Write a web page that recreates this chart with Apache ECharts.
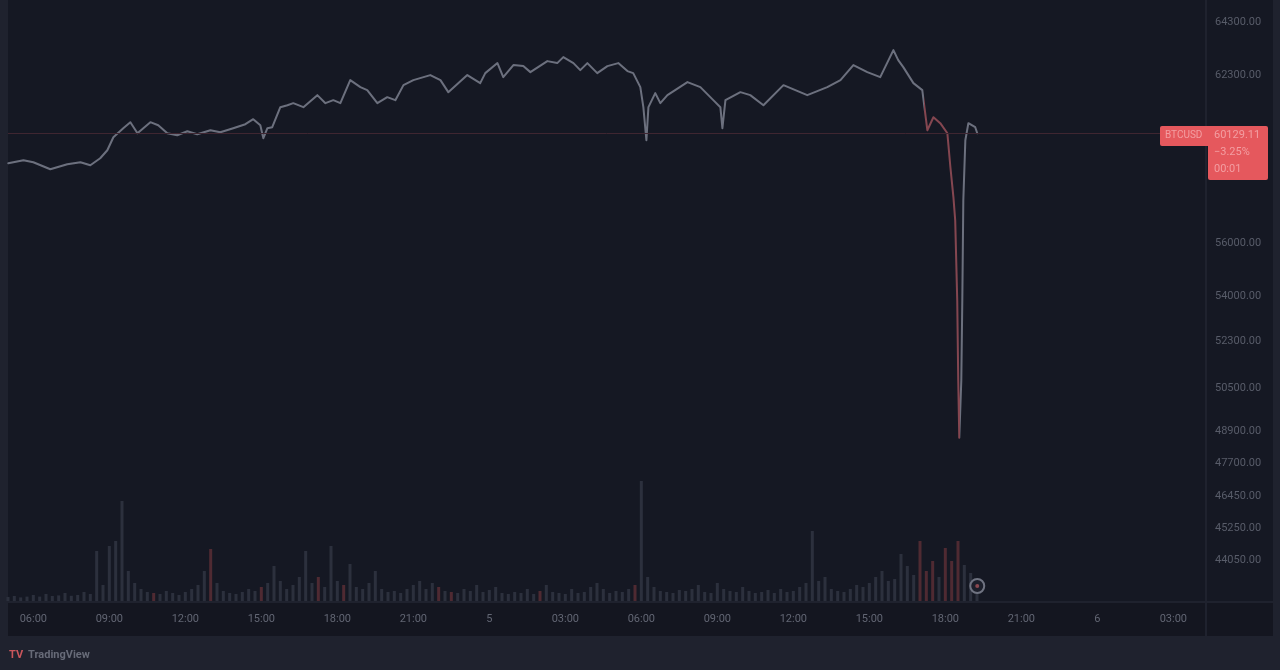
<!DOCTYPE html>
<html>
<head>
<meta charset="utf-8">
<script src="https://cdn.jsdelivr.net/npm/echarts@6/dist/echarts.min.js"></script>
<style>
html,body{margin:0;padding:0;background:#1f222e;}
#c{width:1280px;height:670px;}
</style>
</head>
<body>
<div id="c"></div>
<script>
// ---- data (hours since day-4 00:00, price in USD) ----
const times = [5.01,5.61,6.00,6.67,7.34,7.86,8.25,8.64,8.92,9.16,9.55,9.83,10.11,10.62,10.93,11.29,11.68,12.08,12.47,12.99,13.38,13.89,14.37,14.68,14.96,15.08,15.24,15.43,15.75,16.03,16.26,16.66,17.21,17.53,17.84,18.12,18.51,18.91,19.18,19.58,19.97,20.29,20.61,21.00,21.67,22.07,22.38,23.13,23.64,23.84,24.32,24.55,24.95,25.34,25.62,26.29,26.68,26.92,27.32,27.59,27.87,28.26,28.66,29.09,29.45,29.68,29.96,30.08,30.20,30.28,30.55,30.75,31.03,31.82,32.33,32.84,33.12,33.20,33.32,33.91,34.30,34.82,35.61,36.55,37.34,37.86,38.37,38.92,39.43,39.95,40.14,40.34,40.74,41.09,41.29,41.53,41.80,42.08,42.20,42.32,42.39,42.47,42.51,42.55,42.63,42.67,42.71,42.79,42.91,43.18,43.26];
const prices = [58997,59110,59035,58770,58959,59035,58921,59186,59488,59978,60318,60545,60129,60545,60431,60129,60054,60205,60092,60243,60167,60318,60469,60658,60431,59941,60318,60356,61111,61186,61262,61111,61564,61262,61375,61262,62130,61866,61753,61262,61488,61375,61941,62130,62319,62130,61677,62319,62017,62394,62772,62243,62696,62659,62432,62847,62772,62998,62772,62508,62772,62394,62659,62772,62470,62394,61866,61111,59865,61111,61639,61262,61564,62055,61866,61375,61111,60318,61375,61677,61564,61186,61941,61564,61866,62130,62696,62432,62243,63263,62885,62621,62017,61753,60243,60733,60507,60129,58846,57713,56845,53825,50805,48653,50805,53825,57600,59865,60507,60356,60129];

// volume: one bar per 15 minutes starting at 05:00 on day 4
const volStart = 5.0, volStep = 0.25;
const volumes = [20,25,18,22, 30,22,35,25, 28,40,26,30, 45,35,250,80, 275,300,500,150, 90,60,45,40, 35,50,40,30, 45,60,80,150, 260,90,50,40, 35,45,60,50, 70,90,175,100, 60,80,120,250, 90,120,70,275, 100,80,185,70, 60,90,150,60, 45,50,40,60, 80,100,60,90, 70,50,45,40, 60,50,80,45, 55,70,40,35, 45,40,60,35, 50,80,45,40, 35,60,40,45, 70,90,60,40, 50,45,60,80, 600,120,70,50, 45,40,55,50, 60,80,45,40, 90,60,50,45, 70,50,40,45, 55,40,60,45, 50,70,90,350, 100,120,60,50, 45,60,80,70, 90,120,150,100, 110,235,175,130, 300,150,200,120, 265,200,300,180, 140,90];
const volDownHours = [10.75,13.0,15.0,17.25,18.25,22.0,22.5,26.0,29.75,41.0,41.25,41.5,42.0,42.25,42.5];

const xTickValues = [6,9,12,15,18,21,24,27,30,33,36,39,42,45,48,51];
const xTickLabels = ["06:00","09:00","12:00","15:00","18:00","21:00","5","03:00","06:00","09:00","12:00","15:00","18:00","21:00","6","03:00"];
const yTickValues = [64300,62300,56000,54000,52300,50500,48900,47700,46450,45250,44050];
const yTickLabels = ["64300.00","62300.00","56000.00","54000.00","52300.00","50500.00","48900.00","47700.00","46450.00","45250.00","44050.00"];

const symbolName = "BTCUSD";
const lastPriceText = "60129.11";
const changeText = "−3.25%";
const countdownText = "00:01";

// ---- build ----
const priceData = times.map((t,i)=>[t,prices[i]]);
const volData = volumes.map((v,i)=>{
  const t = volStart + i*volStep;
  const down = volDownHours.indexOf(t) >= 0;
  return {value:[t,v], itemStyle:{color: down ? '#4f2a32' : '#2c303d'}};
});
const lastT = times[times.length-1];
const lastP = prices[prices.length-1];

const chart = echarts.init(document.getElementById('c'), null, {renderer:'canvas'});
const FONT = 'Roboto, "Noto Sans", sans-serif';

const option = {
  backgroundColor: '#1f222e',
  animation: false,
  grid: [
    {left:8, right:75, top:0, height:601, show:false},
    {left:8, right:75, top:401, height:200, show:false}
  ],
  xAxis: [
    {type:'value', gridIndex:0, min:5.0, max:52.25,
     axisLine:{show:false}, axisTick:{show:false}, splitLine:{show:false},
     axisLabel:{show:true, customValues:xTickValues, margin:13, color:'#626673', fontSize:11, fontFamily:FONT,
       formatter:(v)=>{const i=xTickValues.indexOf(v); return i>=0?xTickLabels[i]:'';}}},
    {type:'value', gridIndex:1, min:5.0, max:52.25, show:false}
  ],
  yAxis: [
    {type:'value', gridIndex:0, position:'right', min:42500, max:65150, scale:true,
     axisLine:{show:false}, axisTick:{show:false}, splitLine:{show:false},
     axisLabel:{customValues:yTickValues, margin:10, color:'#585c69', fontSize:11, fontFamily:FONT,
       formatter:(v)=>{const i=yTickValues.indexOf(v); return i>=0?yTickLabels[i]:'';}}},
    {type:'value', gridIndex:1, min:0, max:1000, show:false}
  ],
  visualMap: {
    show:false, type:'piecewise', seriesIndex:1, dimension:0,
    pieces:[
      {lt:41.15, color:'#6c707e'},
      {gte:41.15, lt:42.56, color:'#844650'},
      {gte:42.56, color:'#6c707e'}
    ]
  },
  series: [
    {type:'bar', xAxisIndex:1, yAxisIndex:1, data:volData, barWidth:3, z:1},
    {type:'line', xAxisIndex:0, yAxisIndex:0, data:priceData, showSymbol:false,
     lineStyle:{width:2, cap:'round', join:'round'}, z:3,
     markLine:{silent:true, symbol:'none', label:{show:false},
       lineStyle:{color:'#3f2631', width:1, type:'solid'},
       data:[{yAxis:lastP}]}}
  ]
};
chart.setOption(option);

const pLast = chart.convertToPixel({gridIndex:0}, [lastT, lastP]);
const pVol = chart.convertToPixel({gridIndex:1}, [lastT, 0]);
const yb = Math.round(pLast[1]) - 7;

chart.setOption({
  graphic: [
    {type:'rect', z:-10, shape:{x:8,y:0,width:1197,height:601}, style:{fill:'#151823'}},
    {type:'rect', z:-10, shape:{x:1207,y:0,width:66,height:601}, style:{fill:'#151823'}},
    {type:'rect', z:-10, shape:{x:8,y:603,width:1197,height:33}, style:{fill:'#141620'}},
    {type:'rect', z:-10, shape:{x:1207,y:603,width:66,height:33}, style:{fill:'#141620'}},
    // last price tag
    {type:'rect', z:50, shape:{x:1160,y:yb,width:45,height:20,r:2}, style:{fill:'#e5585d'}},
    {type:'rect', z:50, shape:{x:1208,y:yb,width:60,height:54,r:2}, style:{fill:'#e5585d'}},
    {type:'rect', z:50, shape:{x:1200,y:yb,width:12,height:20}, style:{fill:'#e5585d'}},
    {type:'text', z:51, x:1165, y:yb+4, style:{text:symbolName, fill:'#f39ea2', font:'10px '+FONT}},
    {type:'text', z:51, x:1214, y:yb+4, style:{text:lastPriceText, fill:'#f39ea2', font:'11px '+FONT}},
    {type:'text', z:51, x:1214, y:yb+21, style:{text:changeText, fill:'#f39ea2', font:'11px '+FONT}},
    {type:'text', z:51, x:1214, y:yb+38, style:{text:countdownText, fill:'#f39ea2', font:'11px '+FONT}},
    // live marker circle
    {type:'circle', z:20, shape:{cx:pVol[0], cy:pVol[1]-15, r:7}, style:{fill:'#1c1f2b', stroke:'#6f7381', lineWidth:2}},
    {type:'circle', z:21, shape:{cx:pVol[0], cy:pVol[1]-15, r:2}, style:{fill:'#8a4850'}},
    // logo
    {type:'text', z:30, x:9, y:650, style:{text:'TV', fill:'#c9565c', font:'bold 11px '+FONT}},
    {type:'text', z:30, x:28, y:650, style:{text:'TradingView', fill:'#676b78', font:'bold 11px '+FONT}}
  ]
});
</script>
</body>
</html>
